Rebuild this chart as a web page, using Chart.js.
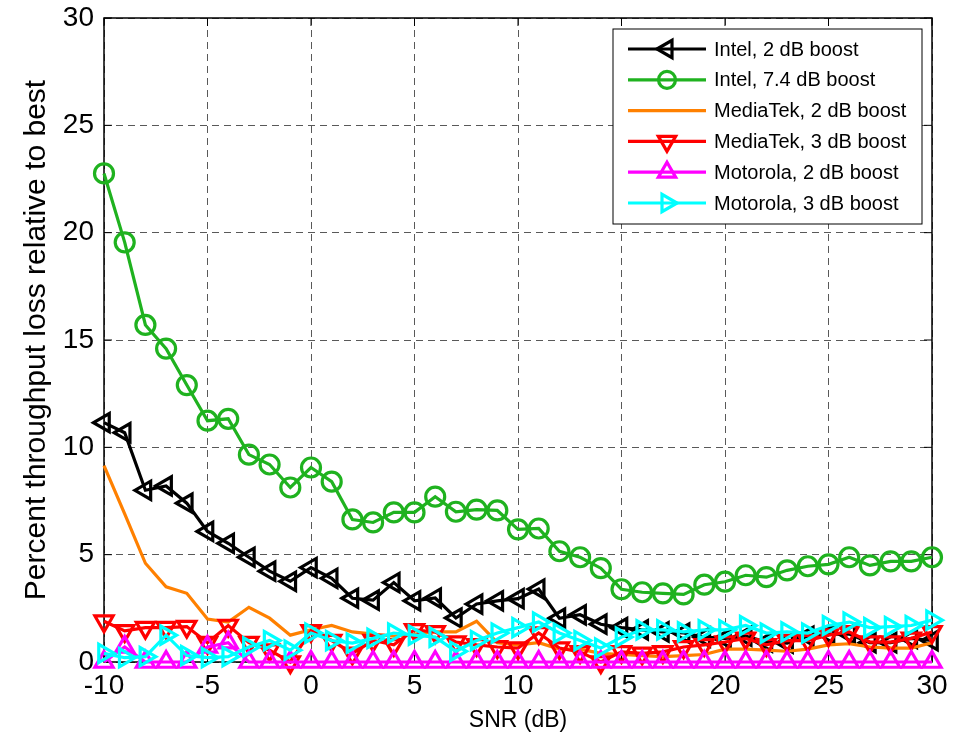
<!DOCTYPE html>
<html>
<head>
<meta charset="utf-8">
<script src="https://cdn.jsdelivr.net/npm/chart.js@4/dist/chart.umd.min.js"></script>
<style>
  html, body { margin: 0; padding: 0; background: #fff; }
  canvas { display: block; }
</style>
</head>
<body>
<canvas id="snrChart" width="963" height="738"></canvas>
<script>
// SNR sweep (dB)
const snr = [-10, -9, -8, -7, -6, -5, -4, -3, -2, -1,
             0, 1, 2, 3, 4, 5, 6, 7, 8, 9,
             10, 11, 12, 13, 14, 15, 16, 17, 18, 19,
             20, 21, 22, 23, 24, 25, 26, 27, 28, 29, 30]

// percent throughput loss relative to best, one list per device/boost
const intel2 = [11.15, 10.68, 8.0, 8.2, 7.4, 6.08, 5.53, 4.88, 4.23, 3.76,
                4.4, 3.9, 2.97, 2.88, 3.7, 2.85, 2.98, 2.05, 2.7, 2.85,
                2.95, 3.4, 2.04, 2.2, 1.76, 1.6, 1.5, 1.4, 1.35, 1.16,
                1.1, 1.2, 0.93, 0.88, 1.2, 1.3, 1.3, 0.9, 0.9, 1.1, 1.0]
const intel74 = [22.76, 19.55, 15.7, 14.6, 12.9, 11.24, 11.33, 9.66, 9.2, 8.13,
                 9.06, 8.4, 6.64, 6.5, 6.97, 6.97, 7.7, 7.0, 7.1, 7.06,
                 6.18, 6.22, 5.16, 4.88, 4.37, 3.39, 3.25, 3.2, 3.15, 3.6,
                 3.74, 4.04, 3.95, 4.27, 4.46, 4.55, 4.88, 4.5, 4.69, 4.69, 4.88]
const mediatek2 = [9.15, 6.9, 4.6, 3.5, 3.2, 2.0, 1.86, 2.55, 2.04, 1.25,
                   1.5, 1.7, 1.4, 1.3, 1.2, 1.3, 1.4, 1.4, 1.9, 0.9,
                   0.8, 0.9, 0.6, 0.6, 0.4, 0.35, 0.3, 0.25, 0.3, 0.35,
                   0.6, 0.6, 0.55, 0.5, 0.6, 0.8, 0.85, 0.7, 0.65, 0.65, 0.9]
const mediatek3 = [1.9, 1.45, 1.6, 1.6, 1.65, 0.9, 1.7, 0.9, 0.55, 0.0,
                   1.45, 1.0, 0.4, 1.0, 0.8, 1.5, 1.4, 0.93, 0.8, 0.7,
                   0.65, 1.35, 0.65, 0.47, 0.0, 0.47, 0.4, 0.47, 0.7, 0.8,
                   0.93, 1.1, 0.8, 1.0, 1.0, 1.25, 1.4, 0.93, 0.93, 1.1, 1.4]
const motorola2 = [0, 0.7, 0, 0, 0, 0.7, 0.9, 0, 0, 0,
                   0, 0, 0, 0, 0, 0, 0, 0, 0, 0,
                   0, 0, 0, 0, 0, 0, 0, 0, 0, 0,
                   0, 0, 0, 0, 0, 0, 0, 0, 0, 0, 0]
const motorola3 = [0.4, 0.2, 0.25, 1.25, 0.3, 0.2, 0.25, 0.7, 1.0, 0.55,
                   1.35, 1.0, 0.88, 1.1, 1.35, 1.25, 1.16, 0.5, 1.0, 1.35,
                   1.6, 1.86, 1.35, 1.0, 0.65, 1.16, 1.5, 1.5, 1.4, 1.5,
                   1.5, 1.7, 1.35, 1.4, 1.35, 1.7, 1.86, 1.6, 1.65, 1.7, 1.95]

const seriesLabels = ['Intel, 2 dB boost', 'Intel, 7.4 dB boost', 'MediaTek, 2 dB boost',
                      'MediaTek, 3 dB boost', 'Motorola, 2 dB boost', 'Motorola, 3 dB boost']

const xTicks = [-10, -5, 0, 5, 10, 15, 20, 25, 30]
const yTicks = [0, 5, 10, 15, 20, 25, 30]

const FONT = '"Liberation Sans", Arial, sans-serif'

function toPoints(values) {
    return snr.map((x, i) => ({ x: x, y: values[i] }))
}

function series(label, values, color, style, rotation, radius, order) {
    return {
        label: label,
        data: toPoints(values),
        borderColor: color,
        backgroundColor: color,
        borderWidth: 3.2,
        pointStyle: style,
        pointRotation: rotation,
        pointRadius: style ? radius : 0,
        pointBorderWidth: 3.2,
        pointBorderColor: color,
        pointBackgroundColor: 'rgba(0,0,0,0)',
        pointHoverRadius: style ? radius : 0,
        tension: 0,
        clip: false,
        order: order
    }
}

// simple marker path, used for the inset legend
function strokeMarker(ctx, style, rotation, x, y, r) {
    ctx.beginPath()
    if (style === 'circle') {
        ctx.arc(x, y, r, 0, Math.PI * 2)
    } else {
        let a = rotation * Math.PI / 180
        for (let i = 0; i < 3; i++) {
            ctx.lineTo(x + Math.sin(a) * r, y - Math.cos(a) * r)
            a += Math.PI * 2 / 3
        }
        ctx.closePath()
    }
    ctx.stroke()
}

// solid box round the axes with inward tick marks
const axesBox = {
    id: 'axesBox',
    beforeDatasetsDraw(chart) {
        const { ctx, chartArea: a, scales } = chart
        ctx.save()
        ctx.strokeStyle = '#000'
        ctx.lineWidth = 1.5
        ctx.strokeRect(a.left, a.top, a.right - a.left, a.bottom - a.top)
        ctx.lineWidth = 1
        ctx.beginPath()
        xTicks.forEach(v => {
            const px = scales.x.getPixelForValue(v)
            ctx.moveTo(px, a.bottom); ctx.lineTo(px, a.bottom - 8)
            ctx.moveTo(px, a.top); ctx.lineTo(px, a.top + 8)
        })
        yTicks.forEach(v => {
            const py = scales.y.getPixelForValue(v)
            ctx.moveTo(a.left, py); ctx.lineTo(a.left + 8, py)
            ctx.moveTo(a.right, py); ctx.lineTo(a.right - 8, py)
        })
        ctx.stroke()
        ctx.restore()
    }
}

// legend boxed in the upper right corner of the plot
const insetLegend = {
    id: 'insetLegend',
    afterDraw(chart) {
        const { ctx, chartArea: a } = chart
        const w = 309, h = 195, rowH = 30.8
        const left = a.right - 10 - w
        const top = a.top + 11
        ctx.save()
        ctx.fillStyle = '#fff'
        ctx.fillRect(left, top, w, h)
        ctx.strokeStyle = '#000'
        ctx.lineWidth = 1
        ctx.strokeRect(left, top, w, h)
        ctx.font = '20px ' + FONT
        ctx.textBaseline = 'middle'
        chart.data.datasets.forEach((ds, i) => {
            const y = top + 20 + i * rowH
            ctx.strokeStyle = ds.borderColor
            ctx.lineWidth = 3.2
            ctx.beginPath()
            ctx.moveTo(left + 15, y)
            ctx.lineTo(left + 93, y)
            ctx.stroke()
            if (ds.pointStyle) {
                strokeMarker(ctx, ds.pointStyle, ds.pointRotation, left + 54, y,
                             ds.pointStyle === 'circle' ? 8.5 : 10)
            }
            ctx.fillStyle = '#000'
            ctx.fillText(ds.label, left + 101, y + 1)
        })
        ctx.restore()
    }
}

new Chart(document.getElementById('snrChart'), {
    type: 'line',
    data: {
        datasets: [
            series(seriesLabels[0], intel2, '#000000', 'triangle', -90, 10.5, 6),
            series(seriesLabels[1], intel74, '#1fb21f', 'circle', 0, 9.5, 5),
            series(seriesLabels[2], mediatek2, '#ff8000', false, 0, 0, 4),
            series(seriesLabels[3], mediatek3, '#ff0000', 'triangle', 180, 10.5, 3),
            series(seriesLabels[4], motorola2, '#ff00ff', 'triangle', 0, 10.5, 2),
            series(seriesLabels[5], motorola3, '#00ffff', 'triangle', 90, 10.5, 1)
        ]
    },
    options: {
        responsive: false,
        animation: false,
        devicePixelRatio: 1,
        layout: { padding: { left: 0, top: 18, right: 31, bottom: 0 } },
        plugins: {
            legend: { display: false },
            tooltip: { enabled: false }
        },
        scales: {
            x: {
                type: 'linear',
                min: -10,
                max: 30,
                afterFit: scale => { scale.height = 76 },
                afterBuildTicks: scale => { scale.ticks = xTicks.map(v => ({ value: v })) },
                ticks: { color: '#000', font: { family: FONT, size: 28 }, padding: 7, maxRotation: 0 },
                grid: { color: 'rgba(0,0,0,0.65)', lineWidth: 1, drawTicks: false },
                border: { display: false, dash: [7, 5] },
                title: {
                    display: true,
                    text: 'SNR (dB)',
                    color: '#000',
                    font: { family: FONT, size: 23 },
                    padding: { top: 0, bottom: 4 }
                }
            },
            y: {
                type: 'linear',
                min: 0,
                max: 30,
                afterFit: scale => {
                    scale.width = 104
                    // let the top label hang over the padding instead of pushing the plot down
                    scale.paddingTop = 0
                    scale.paddingBottom = 0
                },
                afterBuildTicks: scale => { scale.ticks = yTicks.map(v => ({ value: v })) },
                ticks: { color: '#000', font: { family: FONT, size: 28 }, padding: 10 },
                grid: { color: 'rgba(0,0,0,0.65)', lineWidth: 1, drawTicks: false },
                border: { display: false, dash: [7, 5] },
                title: {
                    display: true,
                    text: 'Percent throughput loss relative to best',
                    color: '#000',
                    font: { family: FONT, size: 30 },
                    padding: { top: 19, bottom: 0 }
                }
            }
        }
    },
    plugins: [axesBox, insetLegend]
})
</script>
</body>
</html>
